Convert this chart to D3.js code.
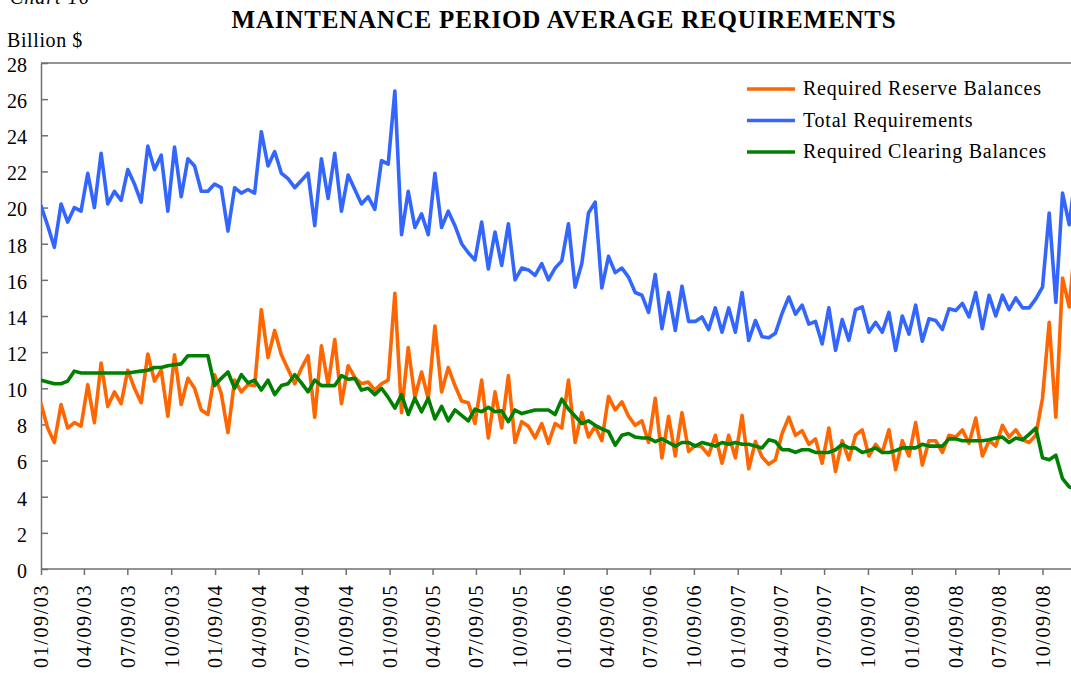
<!DOCTYPE html>
<html>
<head>
<meta charset="utf-8">
<script src="https://cdn.jsdelivr.net/npm/d3@7"></script>
<style>
  body { margin: 0; background: #fff; }
  svg { display: block; }
  text { font-family: "Liberation Serif", "Times New Roman", serif; fill: #000; }
</style>
</head>
<body>
<svg id="chart" width="1071" height="673"></svg>
<script>
// Maintenance periods: two weeks each, first one starts 01/09/03
const firstPeriod = '01/09/03';
const periodDays = 14;

// Quarterly axis labels
const tickLabels = [
    '01/09/03', '04/09/03', '07/09/03', '10/09/03',
    '01/09/04', '04/09/04', '07/09/04', '10/09/04',
    '01/09/05', '04/09/05', '07/09/05', '10/09/05',
    '01/09/06', '04/09/06', '07/09/06', '10/09/06',
    '01/09/07', '04/09/07', '07/09/07', '10/09/07',
    '01/09/08', '04/09/08', '07/09/08', '10/09/08'
];

const yTicks = [0, 2, 4, 6, 8, 10, 12, 14, 16, 18, 20, 22, 24, 26, 28];

// Billion $, one value per maintenance period
const reserveBalances = [
    9.15, 7.8, 7.0, 9.1, 7.8, 8.1, 7.9, 10.2, 8.1, 11.4,
    9.0, 9.8, 9.15, 11.0, 10.0, 9.2, 11.9, 10.4, 11.0, 8.45,
    11.85, 9.1, 10.55, 10.0, 8.8, 8.55, 10.75, 9.7, 7.55, 10.45,
    9.8, 10.2, 10.15, 14.35, 11.7, 13.2, 11.85, 11.05, 10.25, 11.1,
    11.8, 8.4, 12.35, 10.2, 12.7, 9.15, 11.25, 10.6, 10.25, 10.35,
    9.9, 10.25, 10.45, 15.25, 8.65, 12.25, 9.5, 10.9, 9.4, 13.45,
    9.8, 11.15, 10.15, 9.3, 9.2, 8.05, 10.45, 7.25, 9.8, 7.8,
    10.7, 7.0, 8.15, 7.9, 7.25, 8.05, 6.95, 8.05, 7.8, 10.45,
    7.0, 8.65, 7.3, 7.9, 7.1, 9.55, 8.8, 9.25, 8.45, 7.95,
    8.2, 7.0, 9.45, 6.15, 8.45, 6.25, 8.65, 6.5, 6.85, 6.75,
    6.3, 7.4, 5.85, 7.4, 6.15, 8.5, 5.55, 7.05, 6.2, 5.8,
    6.05, 7.5, 8.4, 7.4, 7.65, 6.9, 7.2, 5.85, 7.8, 5.4,
    7.1, 6.05, 7.4, 7.7, 6.25, 6.9, 6.45, 7.7, 5.5, 7.1,
    6.25, 8.1, 5.75, 7.1, 7.1, 6.45, 7.4, 7.3, 7.7, 6.95,
    8.35, 6.25, 7.1, 6.8, 7.95, 7.3, 7.7, 7.15, 7.0, 7.4,
    9.45, 13.65, 8.4, 16.1, 14.5, 18.5
];

const totalRequirements = [
    20.1, 19.0, 17.8, 20.2, 19.2, 20.0, 19.8, 21.9, 20.0, 23.0,
    20.2, 20.9, 20.4, 22.1, 21.3, 20.3, 23.4, 22.1, 22.9, 19.8,
    23.35, 20.6, 22.7, 22.3, 20.9, 20.9, 21.3, 21.1, 18.7, 21.1,
    20.8, 21.0, 20.8, 24.2, 22.3, 23.1, 21.9, 21.6, 21.1, 21.5,
    21.9, 19.0, 22.7, 20.5, 23.0, 19.8, 21.8, 21.0, 20.2, 20.6,
    19.9, 22.6, 22.4, 26.45, 18.5, 20.9, 18.9, 19.65, 18.5, 21.9,
    18.9, 19.8, 19.0, 18.0, 17.5, 17.1, 19.2, 16.6, 18.65, 16.8,
    19.1, 16.0, 16.65, 16.55, 16.25, 16.9, 16.0, 16.65, 17.05, 19.1,
    15.6, 16.9, 19.7, 20.3, 15.55, 17.3, 16.4, 16.65, 16.15, 15.3,
    15.15, 14.2, 16.3, 13.3, 15.3, 13.2, 15.65, 13.7, 13.7, 13.95,
    13.25, 14.45, 13.1, 14.45, 13.1, 15.3, 12.65, 13.75, 12.85, 12.8,
    13.05, 14.15, 15.05, 14.1, 14.6, 13.55, 13.7, 12.45, 14.45, 12.1,
    13.8, 12.65, 14.35, 14.5, 13.1, 13.65, 13.1, 14.2, 12.1, 14.0,
    13.0, 14.6, 12.6, 13.85, 13.75, 13.25, 14.4, 14.3, 14.7, 13.95,
    15.3, 13.3, 15.15, 14.0, 15.15, 14.35, 15.0, 14.45, 14.45, 14.95,
    15.6, 19.7, 14.75, 20.8, 19.05, 22.0
];

const clearingBalances = [
    10.45, 10.35, 10.25, 10.25, 10.4, 10.95, 10.85, 10.85, 10.85, 10.85,
    10.85, 10.85, 10.85, 10.85, 10.9, 10.95, 11.0, 11.15, 11.15, 11.25,
    11.3, 11.35, 11.8, 11.8, 11.8, 11.8, 10.15, 10.55, 10.9, 10.0,
    10.75, 10.3, 10.45, 9.9, 10.45, 9.65, 10.15, 10.25, 10.75, 10.3,
    9.8, 10.45, 10.15, 10.15, 10.15, 10.7, 10.5, 10.55, 9.9, 10.0,
    9.65, 10.0, 9.5, 8.9, 9.65, 8.55, 9.45, 8.7, 9.45, 8.3,
    9.0, 8.2, 8.8, 8.5, 8.2, 8.85, 8.7, 8.95, 8.7, 8.75,
    8.15, 8.8, 8.6, 8.7, 8.8, 8.8, 8.8, 8.55, 9.4, 8.85,
    8.45, 8.05, 8.2, 7.95, 7.75, 7.6, 6.85, 7.4, 7.5, 7.3,
    7.25, 7.25, 7.05, 7.2, 7.0, 6.8, 7.0, 7.0, 6.8, 7.0,
    6.9, 6.8, 7.0, 6.9, 7.0, 6.9, 6.9, 6.8, 6.7, 7.15,
    7.05, 6.6, 6.6, 6.45, 6.6, 6.6, 6.45, 6.45, 6.45, 6.6,
    6.9, 6.7, 6.7, 6.45, 6.55, 6.7, 6.45, 6.45, 6.55, 6.7,
    6.7, 6.7, 6.9, 6.8, 6.8, 6.8, 7.2, 7.2, 7.1, 7.1,
    7.1, 7.1, 7.15, 7.25, 7.3, 7.0, 7.25, 7.15, 7.45, 7.8,
    6.15, 6.05, 6.3, 5.0, 4.55, 4.4
];

const seriesNames = ['Required Reserve Balances', 'Total Requirements', 'Required Clearing Balances'];
const seriesValues = [reserveBalances, totalRequirements, clearingBalances];
const seriesColors = ['#ff6600', '#3366ff', '#008000'];

const parseDate = d3.utcParse('%m/%d/%y');
const tickDates = tickLabels.map(parseDate);
const start = parseDate(firstPeriod);

const svg = d3.select('#chart');

// Plot frame
const plotLeft = 41, plotTop = 63, plotBottom = 569, plotRight = 1090;
const axisColor = '#707070';

const x = d3.scaleUtc()
    .domain([tickDates[0], tickDates[tickDates.length - 1]])
    .range([plotLeft, 1042.5]);

const y = d3.scaleLinear()
    .domain([0, 28])
    .range([plotBottom, plotTop]);

// Header texts
svg.append('text')
    .attr('x', 10)
    .attr('y', 4)
    .attr('font-size', '20px')
    .attr('font-style', 'italic')
    .attr('letter-spacing', '1px')
    .text('Chart 16');

svg.append('text')
    .attr('x', 564)
    .attr('y', 28)
    .attr('text-anchor', 'middle')
    .attr('font-size', '25px')
    .attr('font-weight', 'bold')
    .attr('letter-spacing', '0.8px')
    .text('MAINTENANCE PERIOD AVERAGE REQUIREMENTS');

svg.append('text')
    .attr('x', 7)
    .attr('y', 47)
    .attr('font-size', '20px')
    .attr('letter-spacing', '0.6px')
    .text('Billion $');

// Top border of the plot area
svg.append('line')
    .attr('x1', plotLeft).attr('x2', plotRight)
    .attr('y1', plotTop).attr('y2', plotTop)
    .attr('stroke', axisColor)
    .attr('stroke-width', 1.5);

// Y axis, ticks pointing into the plot
const yAxis = svg.append('g')
    .attr('transform', `translate(${plotLeft},0)`)
    .call(d3.axisLeft(y).tickValues(yTicks).tickSize(-7).tickSizeOuter(0).tickPadding(14));

yAxis.selectAll('text')
    .attr('font-size', '20px')
    .attr('dy', '0.42em')
    .attr('fill', '#000');

// X axis
const xAxis = svg.append('g')
    .attr('transform', `translate(0,${plotBottom})`)
    .call(d3.axisBottom(x).tickValues(tickDates).tickSize(6).tickSizeOuter(0)
        .tickFormat((d, i) => tickLabels[i]));

xAxis.select('.domain').attr('d', `M${plotLeft},0H${plotRight}`);

xAxis.selectAll('text')
    .attr('font-size', '20px')
    .attr('letter-spacing', '1.6px')
    .attr('fill', '#000')
    .attr('transform', 'rotate(-90)')
    .attr('text-anchor', 'end')
    .attr('x', -15)
    .attr('y', 0)
    .attr('dy', '0.34em');

svg.selectAll('.domain, .tick line')
    .attr('stroke', axisColor)
    .attr('stroke-width', 1.5);

// Clip the series to the plot area
svg.append('clipPath')
    .attr('id', 'plot-clip')
    .append('rect')
    .attr('x', plotLeft).attr('y', plotTop)
    .attr('width', plotRight - plotLeft).attr('height', plotBottom - plotTop);

const line = d3.line()
    .x((d, i) => x(d3.utcDay.offset(start, i * periodDays)))
    .y(d => y(d));

svg.append('g')
    .attr('clip-path', 'url(#plot-clip)')
    .selectAll('path')
    .data(seriesValues)
    .join('path')
    .attr('d', d => line(d))
    .attr('fill', 'none')
    .attr('stroke', (d, i) => seriesColors[i])
    .attr('stroke-width', 3.6)
    .attr('stroke-linejoin', 'round')
    .attr('stroke-linecap', 'round');

// Legend
const legend = svg.append('g')
    .attr('transform', 'translate(747,89)');

const legendItems = legend.selectAll('g')
    .data(seriesNames)
    .join('g')
    .attr('transform', (d, i) => `translate(0,${i * 31.5})`);

legendItems.append('line')
    .attr('x1', 0).attr('x2', 48)
    .attr('stroke', (d, i) => seriesColors[i])
    .attr('stroke-width', 3.6);

legendItems.append('text')
    .attr('x', 56)
    .attr('dy', '0.32em')
    .attr('font-size', '20px')
    .attr('letter-spacing', '0.75px')
    .text(d => d);
</script>
</body>
</html>
